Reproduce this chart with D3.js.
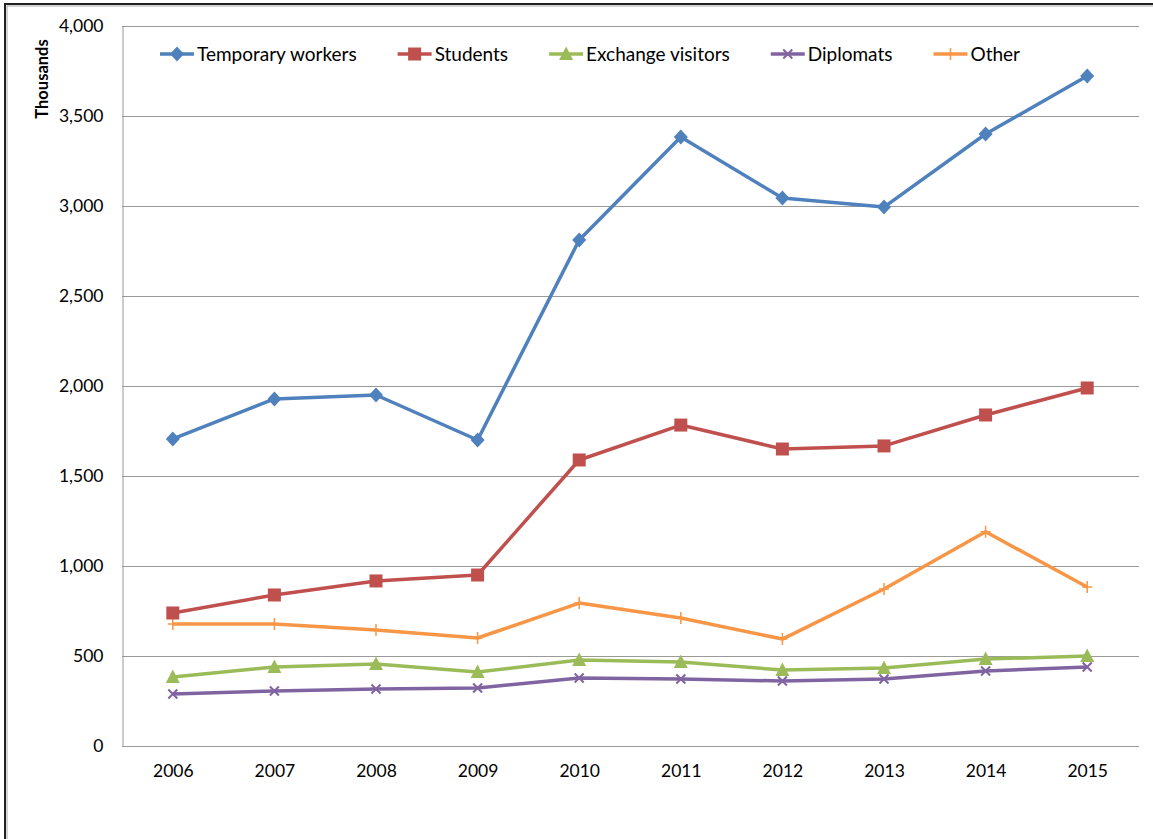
<!DOCTYPE html>
<html>
<head>
<meta charset="utf-8">
<script src="https://cdn.jsdelivr.net/npm/d3@7"></script>
<style>
  body { margin: 0; background: #fff; }
  text { font-family: Lato, "Open Sans", sans-serif; fill: #000; }
</style>
</head>
<body>
<div id="chart"></div>
<script>
var years = ["2006", "2007", "2008", "2009", "2010", "2011", "2012", "2013", "2014", "2015"];
var yTicks = [0, 500, 1000, 1500, 2000, 2500, 3000, 3500, 4000];

var temporaryWorkers = [1706, 1928, 1950, 1700, 2811, 3383, 3044, 2994, 3400, 3722];
var students         = [739, 839, 917, 950, 1589, 1783, 1650, 1667, 1839, 1989];
var exchangeVisitors = [383, 439, 456, 411, 478, 467, 422, 433, 483, 500];
var diplomats        = [289, 306, 317, 322, 378, 372, 361, 372, 417, 439];
var other            = [678, 678, 644, 600, 794, 711, 594, 872, 1190, 883];

var seriesNames = ["Temporary workers", "Students", "Exchange visitors", "Diplomats", "Other"];
var seriesValues = [temporaryWorkers, students, exchangeVisitors, diplomats, other];
var colors = ["#4f81bd", "#c0504d", "#9bbb59", "#8064a2", "#f79646"];
var markers = ["diamond", "square", "triangle", "cross", "plus"];

/*
 * Bounds of component.
 */
var width = 1153,
  height = 839,
  plotLeft = 122, plotRight = 1139, plotTop = 26, plotBottom = 746;

var svg = d3.select("#chart").append("svg")
  .attr("width", width)
  .attr("height", height);

/*
 * Outer frame (only top and left edges show).
 */
svg.append("path")
  .attr("d", "M5,839V4H1153")
  .attr("fill", "none")
  .attr("stroke", "#222")
  .attr("stroke-width", 2);
svg.append("path")
  .attr("d", "M7,839V6H1153")
  .attr("fill", "none")
  .attr("stroke", "#aaa")
  .attr("stroke-width", 1);

/*
 * Scales.
 */
var x = d3.scalePoint()
  .domain(years)
  .range([plotLeft, plotRight - 1])
  .padding(0.5);

var y = d3.scaleLinear()
  .domain([0, 4000])
  .range([plotBottom, plotTop]);

/*
 * Gridlines.
 */
svg.append("g")
  .selectAll("line")
  .data(yTicks.filter(function(d) { return d > 0; }))
  .enter().append("line")
  .attr("x1", plotLeft)
  .attr("x2", plotRight)
  .attr("y1", function(d) { return Math.round(y(d)) + 0.5; })
  .attr("y2", function(d) { return Math.round(y(d)) + 0.5; })
  .attr("stroke", "#9a9a9a")
  .attr("stroke-width", 1);

/*
 * Axes.
 */
var yAxis = svg.append("g")
  .attr("transform", "translate(" + (plotLeft + 0.5) + ",0)")
  .call(d3.axisLeft(y).tickValues(yTicks).tickSize(0).tickPadding(19)
    .tickFormat(d3.format(",")));
yAxis.select(".domain").attr("stroke", "#9a9a9a");
yAxis.selectAll("text").style("font-size", "17.5px");

var xAxis = svg.append("g")
  .attr("transform", "translate(0," + (plotBottom + 0.5) + ")")
  .call(d3.axisBottom(x).tickSize(0).tickPadding(18));
xAxis.select(".domain").attr("stroke", "#9a9a9a").attr("d", "M" + plotLeft + ",0H" + plotRight);
xAxis.selectAll("text").style("font-size", "17.5px");

svg.append("text")
  .attr("transform", "translate(48,79) rotate(-90)")
  .style("text-anchor", "middle")
  .style("font-size", "16.5px")
  .style("font-weight", "bold")
  .text("Thousands");

/*
 * Marker drawing.
 */
function drawMarker(g, type, color) {
  if (type === "diamond") {
    g.append("path").attr("d", "M0,-7.5L7,0L0,7.5L-7,0Z").attr("fill", color);
  } else if (type === "square") {
    g.append("rect").attr("x", -6.5).attr("y", -6.5).attr("width", 13).attr("height", 13).attr("fill", color);
  } else if (type === "triangle") {
    g.append("path").attr("d", "M0,-7.5L7,6L-7,6Z").attr("fill", color);
  } else if (type === "cross") {
    g.append("path").attr("d", "M-4.5,-4.5L4.5,4.5M-4.5,4.5L4.5,-4.5").attr("stroke", color).attr("stroke-width", 2);
  } else if (type === "plus") {
    g.append("path").attr("d", "M-5,0H5M0,-6V6").attr("stroke", color).attr("stroke-width", 1.5);
  }
}

var line = d3.line()
  .x(function(d, i) { return x(years[i]); })
  .y(function(d) { return y(d); });

/*
 * Series, drawn last-first so the first series sits on top.
 */
var order = [4, 3, 2, 1, 0];
order.forEach(function(s) {
  var g = svg.append("g");
  g.append("path")
    .datum(seriesValues[s])
    .attr("d", line)
    .attr("fill", "none")
    .attr("stroke", colors[s])
    .attr("stroke-width", 3.5)
    .attr("stroke-linejoin", "round");
  g.selectAll(".pt")
    .data(seriesValues[s])
    .enter().append("g")
    .attr("transform", function(d, i) { return "translate(" + x(years[i]) + "," + y(d) + ")"; })
    .each(function() { drawMarker(d3.select(this), markers[s], colors[s]); });
});

/*
 * Legend.
 */
var legend = svg.append("g").attr("transform", "translate(160,54)");
var lx = 0;
seriesNames.forEach(function(name, s) {
  var item = legend.append("g").attr("transform", "translate(" + lx + ",0)");
  item.append("line")
    .attr("x1", 0).attr("x2", 34)
    .attr("stroke", colors[s]).attr("stroke-width", 3.5);
  drawMarker(item.append("g").attr("transform", "translate(17,0)"), markers[s], colors[s]);
  var t = item.append("text")
    .attr("x", 37)
    .attr("dy", "0.35em")
    .style("font-size", "19px")
    .text(name);
  lx += 37 + t.node().getComputedTextLength() + 41;
});
</script>
</body>
</html>
